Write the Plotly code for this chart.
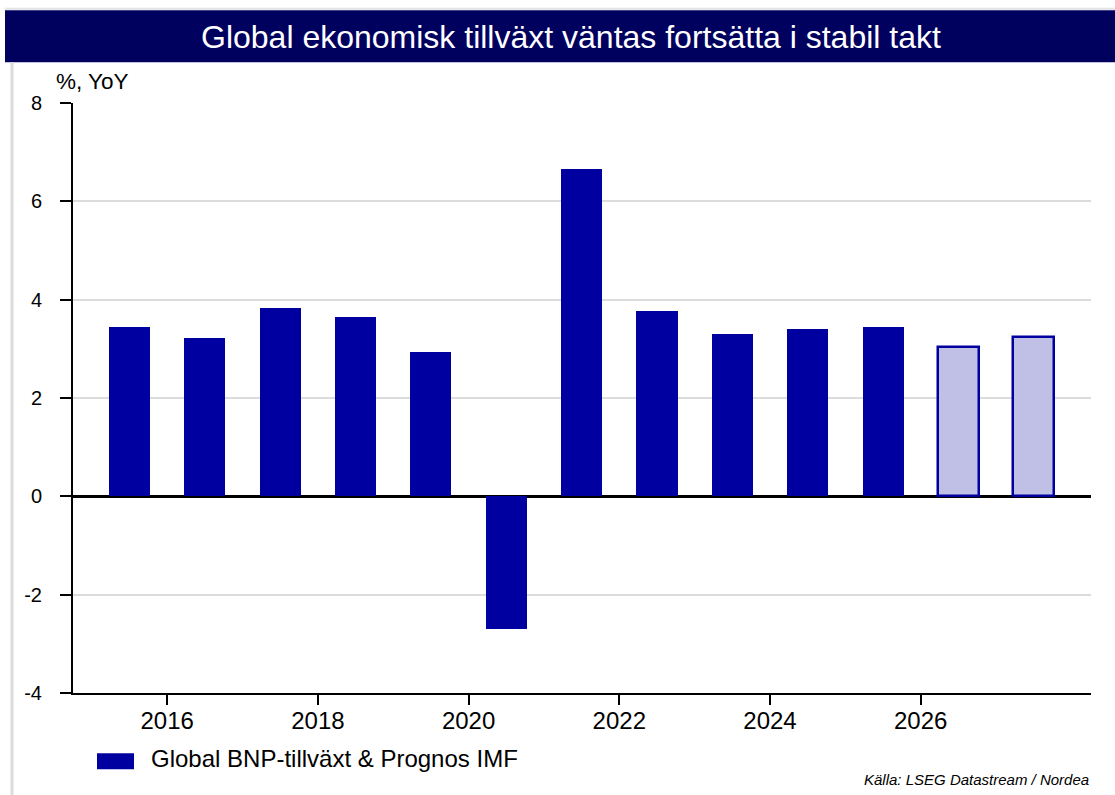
import plotly.graph_objects as go

# ---- data ----
years = [2015, 2016, 2017, 2018, 2019, 2020, 2021, 2022, 2023, 2024, 2025, 2026, 2027]
growth = [3.44, 3.23, 3.84, 3.64, 2.94, -2.70, 6.65, 3.76, 3.31, 3.40, 3.44, 3.04, 3.24]
is_forecast = [False] * 11 + [True, True]
xtick_vals = [2016, 2018, 2020, 2022, 2024, 2026]
ytick_vals = [-4, -2, 0, 2, 4, 6, 8]

title_text = "Global ekonomisk tillväxt väntas fortsätta i stabil takt"
legend_text = "Global BNP-tillväxt & Prognos IMF"
unit_text = "%, YoY"
source_text = "Källa: LSEG Datastream / Nordea"

# ---- style ----
W, H = 1115, 795
L, R, T, B = 73, 1091, 102.7, 692.7
DARK = "#0000A0"
LIGHT = "#C0C0E6"
NAVY = "#00005E"
FONT = "Arial, Liberation Sans, sans-serif"


def px(x):
    return (x - L) / (R - L)


def py(y):
    return (B - y) / (B - T)


fill_colors = [LIGHT if f else DARK for f in is_forecast]
line_widths = [2.5 if f else 0 for f in is_forecast]

fig = go.Figure()
fig.add_trace(go.Bar(
    x=[y + 0.5 for y in years],
    y=growth,
    width=0.545,
    marker=dict(color=fill_colors, line=dict(color=DARK, width=line_widths)),
    showlegend=False,
    hoverinfo="x+y",
))

fig.update_layout(
    width=W, height=H,
    margin=dict(l=L, r=W - R, t=T, b=H - B, pad=0),
    paper_bgcolor="white",
    plot_bgcolor="white",
    font=dict(family=FONT, color="black"),
    bargap=0,
    xaxis=dict(
        range=[2014.75, 2028.26],
        tickvals=xtick_vals,
        ticktext=[str(v) for v in xtick_vals],
        showgrid=False,
        zeroline=False,
        showline=True, linecolor="black", linewidth=2,
        ticks="outside", ticklen=10, tickwidth=2, tickcolor="black",
        tickfont=dict(size=24, family=FONT, color="black"),
        ticklabelstandoff=-5,
    ),
    yaxis=dict(
        range=[-4, 8],
        tickvals=ytick_vals,
        ticktext=[str(v) for v in ytick_vals],
        showgrid=True, gridcolor="#DCDCDC", gridwidth=2,
        zeroline=True, zerolinecolor="black", zerolinewidth=2.5,
        showline=True, linecolor="black", linewidth=2,
        ticks="outside", ticklen=11, tickwidth=2, tickcolor="black",
        tickfont=dict(size=20, family=FONT, color="black"),
        ticklabelstandoff=14,
    ),
    shapes=[
        # title bar
        dict(type="rect", xref="paper", yref="paper", layer="below",
             x0=px(5), x1=px(1116), y0=py(62), y1=py(10),
             fillcolor=NAVY, line=dict(width=0)),
        # top thin frame line
        dict(type="line", xref="paper", yref="paper",
             x0=px(5), x1=px(1116), y0=py(8.5), y1=py(8.5),
             line=dict(color="#E4E4E4", width=2)),
        # left frame line
        dict(type="line", xref="paper", yref="paper",
             x0=px(12), x1=px(12), y0=py(62), y1=py(796),
             line=dict(color="#DCDCDC", width=3)),
        # legend swatch
        dict(type="rect", xref="paper", yref="paper",
             x0=px(97), x1=px(134), y0=py(769), y1=py(753),
             fillcolor=DARK, line=dict(width=0)),
    ],
    annotations=[
        dict(text=title_text, xref="paper", yref="paper",
             x=px(571), y=py(37), xanchor="center", yanchor="middle",
             showarrow=False, font=dict(size=32, color="white", family=FONT)),
        dict(text=unit_text, xref="paper", yref="paper",
             x=px(54), y=py(81), xanchor="left", yanchor="middle",
             showarrow=False, font=dict(size=22.5, color="black", family=FONT)),
        dict(text=legend_text, xref="paper", yref="paper",
             x=px(149), y=py(758), xanchor="left", yanchor="middle",
             showarrow=False, font=dict(size=24, color="black", family=FONT)),
        dict(text="<i>" + source_text + "</i>", xref="paper", yref="paper",
             x=px(1091), y=py(779), xanchor="right", yanchor="middle",
             showarrow=False, font=dict(size=15, color="black", family=FONT)),
    ],
)

fig.write_html("out.html")
